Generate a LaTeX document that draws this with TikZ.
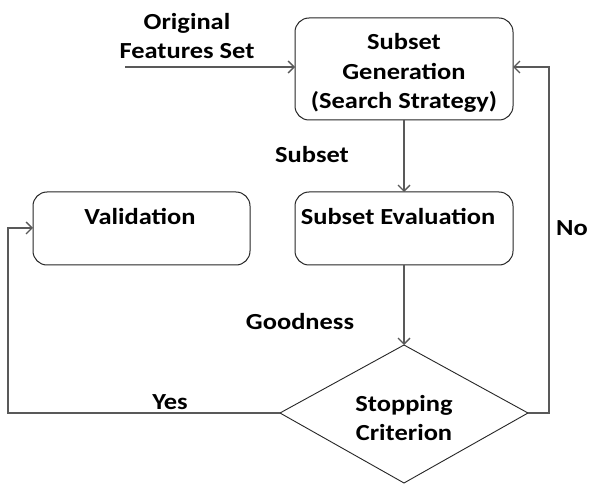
\documentclass[tikz,border=0pt]{standalone}
\usepackage{fontspec}
\setmainfont{Carlito}
\newfontfamily\lblfont[FakeStretch=1.15]{Carlito}
\usetikzlibrary{shapes.geometric,arrows.meta}
\begin{document}
\begin{tikzpicture}[x=1pt,y=-1pt,
  lbl/.style={font=\lblfont\fontsize{23}{29.5}\selectfont\bfseries, align=center, inner sep=0pt},
  box/.style={draw=black!85, line width=1pt, rounded corners=14pt, fill=white},
  conn/.style={draw=black!65, line width=1.6pt, -{Straight Barb[length=6pt,width=12pt,line width=1.4pt]}}]
\useasboundingbox (0,0) rectangle (600,489);
\fill[white] (0,0) rectangle (600,489);
% boxes
\path[box] (295,18) rectangle (513,120);
\node[lbl] (gen) at (404,73) {Subset\\Generation\\(Search Strategy)};
\coordinate (genT) at (404,120);
\coordinate (genR) at (513,67);
\coordinate (genL) at (295,67);
\path[box] (295,192) rectangle (513,265);
\node[lbl] (eval) at (398,216) {Subset Evaluation};
\coordinate (evalT) at (404,192);
\coordinate (evalB) at (404,265);
\path[box] (33,192) rectangle (250,265);
\node[lbl] (val) at (140,216) {Validation};
\coordinate (valL) at (33,228);
% diamond
\path[draw=black!85, line width=0.9pt, fill=white] (404,345) -- (528,413) -- (404,483) -- (280,413) -- cycle;
\node[lbl] (stop) at (404,418) {Stopping\\Criterion};
\coordinate (stT) at (404,345);
\coordinate (stR) at (528,413);
\coordinate (stL) at (280,413);
% labels
\node[lbl] (orig) at (187,36) {Original\\Features Set};
\node[lbl] (subset) at (312,155) {Subset};
\node[lbl] (good) at (300,322) {Goodness};
\node[lbl] (yes) at (170,402) {Yes};
\node[lbl] (no) at (572,228) {No};
% connectors
\coordinate (in) at (125,67);
\draw[conn] (in) -- (genL);
\draw[conn] (genT) -- (evalT);
\draw[conn] (evalB) -- (stT);
\draw[conn] (stR) -- (549,413) -- (549,67) -- (genR);
\draw[conn] (stL) -- (8,413) -- (8,228) -- (valL);
\end{tikzpicture}
\end{document}
